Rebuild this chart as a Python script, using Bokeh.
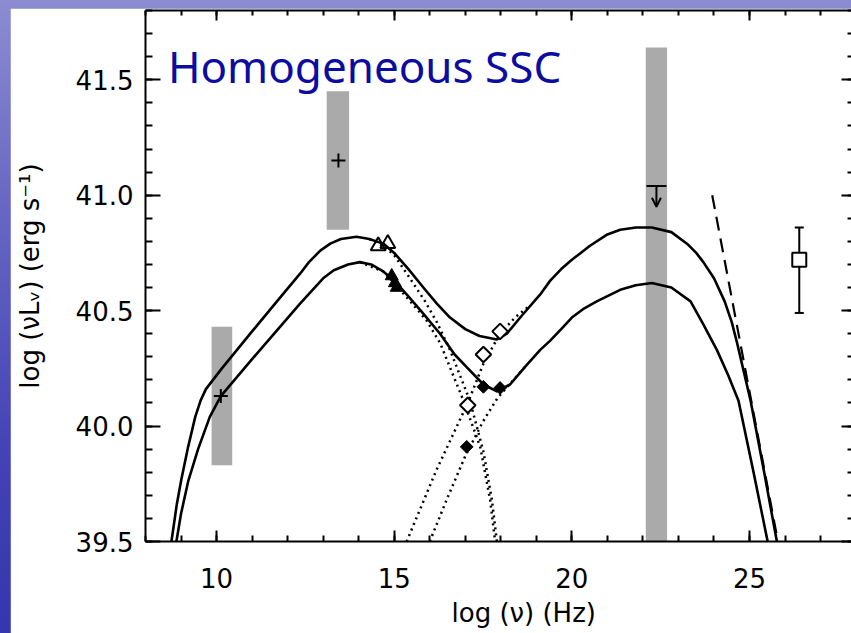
import numpy as np
from bokeh.plotting import figure
from bokeh.models import (SingleIntervalTicker, LinearAxis, Label, Arrow, OpenHead, Title,
                          Range1d, PrintfTickFormatter, CustomJSTickFormatter)
from bokeh.layouts import column
from bokeh.embed import file_html
from bokeh.resources import INLINE

# ---------------- data ----------------
upper_x = [8.73, 8.88, 9.01, 9.20, 9.40, 9.55, 9.70, 9.90, 10.15, 11.0, 11.7, 12.35, 12.6, 12.92,
           13.2, 13.5, 13.94, 14.3, 14.5, 14.7, 15.0, 15.4, 15.82, 16.2, 16.57, 17.0, 17.4,
           17.89, 18.17, 18.6, 19.11, 19.39, 19.7, 20.0, 20.25, 20.5, 21.0, 21.36, 21.8, 22.25,
           22.8, 23.24, 23.5, 23.7, 24.0, 24.3, 24.5, 24.65, 25.03, 25.4, 25.77]
upper_y = [39.50, 39.66, 39.77, 39.91, 40.04, 40.11, 40.16, 40.20, 40.25, 40.41, 40.54, 40.66,
           40.71, 40.76, 40.79, 40.81, 40.82, 40.81, 40.80, 40.79, 40.75, 40.68, 40.60, 40.53,
           40.47, 40.42, 40.39, 40.375, 40.40, 40.48, 40.57, 40.63, 40.68, 40.72, 40.75, 40.78,
           40.83, 40.85, 40.86, 40.86, 40.84, 40.79, 40.75, 40.71, 40.64, 40.54, 40.45, 40.36,
           40.11, 39.81, 39.50]

lower_x = [8.87, 9.00, 9.20, 9.48, 9.81, 10.12, 11.0, 12.35, 13.0, 13.3, 13.7, 14.03, 14.35,
           14.69, 15.0, 15.35, 15.8, 16.29, 16.7, 17.04, 17.51, 17.89, 18.26, 18.7, 19.11, 19.39,
           19.7, 20.0, 20.35, 20.7, 21.36, 21.8, 22.25, 22.8, 23.34, 23.7, 24.08, 24.4, 24.69,
           25.1, 25.51]
lower_y = [39.50, 39.62, 39.76, 39.90, 40.04, 40.13, 40.29, 40.53, 40.64, 40.675, 40.70, 40.71,
           40.70, 40.67, 40.63, 40.57, 40.49, 40.40, 40.31, 40.255, 40.18, 40.15, 40.18, 40.26,
           40.33, 40.37, 40.42, 40.47, 40.51, 40.54, 40.59, 40.61, 40.62, 40.60, 40.54, 40.44,
           40.33, 40.22, 40.11, 39.81, 39.50]

sync_up_x = [14.3, 14.7, 15.0, 15.4, 15.87, 16.2, 16.57, 17.13, 17.51, 17.75, 17.89]
sync_up_y = [40.81, 40.78, 40.74, 40.65, 40.54, 40.45, 40.33, 40.11, 39.89, 39.68, 39.50]
sync_lo_x = [14.03, 14.69, 15.0, 15.45, 15.9, 16.29, 16.95, 17.42, 17.70, 17.84]
sync_lo_y = [40.71, 40.67, 40.62, 40.54, 40.46, 40.36, 40.11, 39.91, 39.68, 39.50]

ssc_up_x = [15.35, 16.19, 17.07, 17.51, 17.98, 18.4, 18.8]
ssc_up_y = [39.50, 39.81, 40.10, 40.27, 40.40, 40.47, 40.52]
ssc_lo_x = [16.0, 16.5, 17.0, 17.5, 17.9, 18.3, 18.7]
ssc_lo_y = [39.50, 39.69, 39.87, 40.02, 40.12, 40.19, 40.26]

plus_x = [10.12, 13.43]
plus_y = [40.13, 41.15]
open_tri_x = [14.55, 14.82]
open_tri_y = [40.78, 40.79]
fill_tri_x = [14.93, 15.02, 15.07]
fill_tri_y = [40.65, 40.62, 40.60]
open_dia_x = [17.07, 17.51, 17.98]
open_dia_y = [40.09, 40.31, 40.41]
fill_dia_x = [17.04, 17.51, 17.98]
fill_dia_y = [39.91, 40.17, 40.165]

bar_left = [9.86, 13.10, 22.08]
bar_right = [10.44, 13.73, 22.68]
bar_bottom = [39.83, 40.85, 39.50]
bar_top = [40.43, 41.45, 41.64]

uplim_x = [22.38]
uplim_y = [41.04]
ARROW_LEN = 0.09

tev_x = [26.40]
tev_y = [40.72]
tev_lo = [40.49]
tev_hi = [40.86]

dash_x = [23.95, 25.80]
dash_y = [41.00, 39.50]

title_text = "Homogeneous SSC"
xlabel_text = "log (\u03bd) (Hz)"
ylabel_text = "log (\u03bdL\u1d65) (erg s\u207b\u00b9)"

# ---------------- figure ----------------
FONT = "DejaVu Sans"
p = figure(width=841, height=625, x_range=Range1d(8, 27.87), y_range=Range1d(39.5, 41.8),
           output_backend="svg", toolbar_location=None,
           min_border_left=135, min_border_right=0, min_border_top=2, min_border_bottom=92)
p.margin = (8, 0, 0, 10)
p.background_fill_color = "white"
p.border_fill_color = "white"
p.outline_line_color = None
p.grid.visible = False

xt = SingleIntervalTicker(interval=5, num_minor_ticks=5)
yt = SingleIntervalTicker(interval=0.5, num_minor_ticks=5)


def style_axis(ax, tin, mtin, lw=2):
    ax.axis_line_width = lw
    ax.axis_line_color = "black"
    ax.major_tick_line_width = 2
    ax.minor_tick_line_width = 2
    ax.major_tick_line_color = "black"
    ax.minor_tick_line_color = "black"
    ax.major_tick_in = tin
    ax.major_tick_out = 0
    ax.minor_tick_in = mtin
    ax.minor_tick_out = 0


xa = p.xaxis[0]
xa.ticker = xt
style_axis(xa, 11, 6)
xa.major_label_text_font = FONT
xa.major_label_text_font_size = "26px"
xa.major_label_text_color = "black"
xa.major_label_standoff = 26

ya = p.yaxis[0]
ya.ticker = yt
ya.formatter = PrintfTickFormatter(format="%.1f")
style_axis(ya, 15, 7)
ya.major_label_text_font = FONT
ya.major_label_text_font_size = "26px"
ya.major_label_text_color = "black"
ya.major_label_standoff = 12
ya.axis_label = ylabel_text
ya.axis_label_text_font = FONT
ya.axis_label_text_font_size = "26px"
ya.axis_label_text_font_style = "normal"
ya.axis_label_text_color = "black"
ya.axis_label_standoff = 28

blank = CustomJSTickFormatter(code="return ''")
top = LinearAxis(ticker=xt, formatter=blank, major_label_text_font_size="1px",
                 major_label_standoff=0)
style_axis(top, 10, 5)
p.add_layout(top, "above")
right = LinearAxis(ticker=yt, formatter=blank, major_label_text_font_size="1px",
                   major_label_standoff=0)
style_axis(right, 10, 4)
right.axis_line_color = None
p.add_layout(right, "right")

p.add_layout(Title(text=xlabel_text, align="left", offset=306, standoff=10,
                   text_font=FONT, text_font_size="26px", text_font_style="normal",
                   text_color="black"), "below")

# gray bands
p.quad(left=bar_left, right=bar_right, bottom=bar_bottom, top=bar_top,
       fill_color="#aaaaaa", line_color=None)

# model curves
DOT = "2 4"
for xs, ys in [(sync_up_x, sync_up_y), (sync_lo_x, sync_lo_y),
               (ssc_up_x, ssc_up_y), (ssc_lo_x, ssc_lo_y)]:
    p.line(xs, ys, line_color="black", line_width=2.5, line_dash=DOT)
p.line(upper_x, upper_y, line_color="black", line_width=2.6, line_join="round")
p.line(lower_x, lower_y, line_color="black", line_width=2.6, line_join="round")
p.line(dash_x, dash_y, line_color="black", line_width=2.2, line_dash="14 8")

# data points
p.scatter(plus_x, plus_y, marker="cross", size=14, line_width=2, line_color="black")
p.scatter(open_tri_x, open_tri_y, marker="triangle", size=15, line_width=2,
          line_color="black", fill_color=None)
p.scatter(fill_tri_x, fill_tri_y, marker="triangle", size=13, line_width=1,
          line_color="black", fill_color="black")
p.scatter(open_dia_x, open_dia_y, marker="square", angle=np.pi / 4, size=11, line_width=2,
          line_color="black", fill_color="white")
p.scatter(fill_dia_x, fill_dia_y, marker="square", angle=np.pi / 4, size=9, line_width=1,
          line_color="black", fill_color="black")

# upper limit
p.scatter(uplim_x, uplim_y, marker="dash", size=20, line_width=2, line_color="black")
for ux, uy in zip(uplim_x, uplim_y):
    p.add_layout(Arrow(x_start=ux, y_start=uy, x_end=ux, y_end=uy - ARROW_LEN,
                       line_width=2, line_color="black",
                       end=OpenHead(size=9, line_width=2, line_color="black")))

# TeV point with error bar
p.segment(tev_x, tev_lo, tev_x, tev_hi, line_width=2, line_color="black")
p.scatter(tev_x, tev_lo, marker="dash", size=9, line_width=2, line_color="black")
p.scatter(tev_x, tev_hi, marker="dash", size=9, line_width=2, line_color="black")
p.scatter(tev_x, tev_y, marker="square", size=14, line_width=2, line_color="black",
          fill_color="white")

# slide title
p.add_layout(Label(x=8.63, y=41.561, text=title_text, text_font="Noto Sans",
                   text_font_size="44px", text_color="#0c0ca0", text_baseline="alphabetic"))

layout = column(p, styles={"background": "linear-gradient(180deg, #8c8cd2 0%, #6a6ac4 30%, #4444b6 70%, #3535ae 100%)"})

open("out.html", "w").write(file_html(layout, INLINE))
